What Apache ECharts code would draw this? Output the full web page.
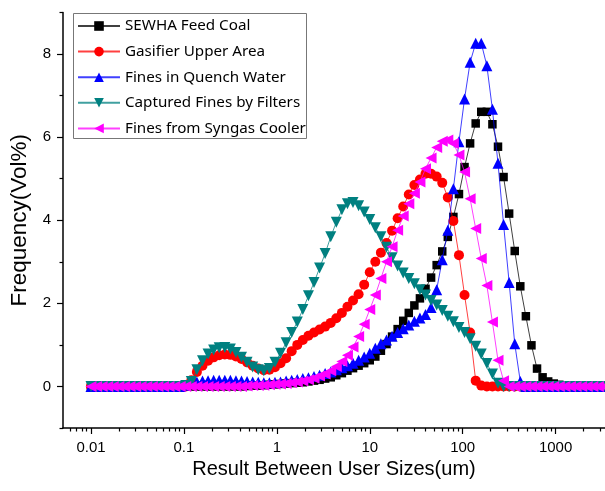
<!DOCTYPE html>
<html>
<head>
<meta charset="utf-8">
<script src="https://cdn.jsdelivr.net/npm/echarts@6/dist/echarts.min.js"></script>
<style>html,body{margin:0;padding:0;background:#fff}#c{width:605px;height:491px}</style>
</head>
<body>
<div id="c"></div>
<script>
// particle size classes (um)
const sizes = [0.01,0.01148,0.01318,0.01514,0.01738,0.01995,0.02291,0.0263,0.0302,0.03467,
0.03981,0.04571,0.05248,0.06026,0.06918,0.07943,0.0912,0.1047,0.1202,0.138,
0.1585,0.182,0.2089,0.2399,0.2754,0.3162,0.3631,0.4169,0.4786,0.5495,
0.631,0.7244,0.8318,0.955,1.096,1.259,1.445,1.66,1.905,2.188,
2.512,2.884,3.311,3.802,4.365,5.012,5.754,6.607,7.586,8.71,
10,11.48,13.18,15.14,17.38,19.95,22.91,26.3,30.2,34.67,
39.81,45.71,52.48,60.26,69.18,79.43,91.2,104.7,120.2,138,
158.5,182,208.9,239.9,275.4,316.2,363.1,416.9,478.6,549.5,
631,724.4,831.8,955,1096,1259,1445,1660,1905,2188,
2512,2884,3311];

const feedCoal = [0,0,0,0,0,0,0,0,0,0,0,0,0,0,0,0,0,0,0,0,0,0,0,0,0,0,0,0,
0.01,0.02,0.02,0.03,0.04,
0.05,0.06,0.07,0.08,0.09,0.1,0.12,0.14,0.16,0.19,
0.22,0.27,0.32,0.38,0.44,0.5,0.56,0.63,0.72,0.86,
1.02,1.2,1.38,1.58,1.77,1.95,2.12,2.35,2.62,2.92,
3.25,3.6,4.08,4.63,5.28,5.85,6.33,6.61,6.61,6.31,
5.77,5.04,4.16,3.26,2.41,1.69,0.99,0.43,0.22,0.12,
0.07,0.04,0.02,0,0,0,0,0,0,0];

const gasifierUpper = [0,0,0,0,0,0,0,0,0,0,0,0,0,0,0,0,0,0,
0.15,0.35,0.5,0.62,0.7,0.75,0.77,0.76,0.72,0.66,
0.58,0.5,0.43,0.39,0.4,0.46,0.56,0.68,0.85,1.0,
1.12,1.22,1.3,1.37,1.44,1.53,1.64,1.77,1.92,2.07,
2.22,2.45,2.75,3.0,3.22,3.45,3.75,4.05,4.33,4.62,
4.85,4.98,5.12,5.12,5.05,4.9,4.55,3.98,3.16,2.2,
1.3,0.14,0.02,
0,0,0,0,0,0,0,0,0,0,0,0,0,0,0,0,0,0,0,0,0,0];

const quenchWater = [0,0,0,0,0,0,0,0,0,0,0,0,0,0,0,0,0,
0.03,0.08,0.11,0.13,0.14,0.15,0.15,0.15,0.15,0.14,
0.13,0.12,0.11,0.1,0.09,0.09,0.1,0.11,0.13,0.15,
0.17,0.19,0.21,0.24,0.27,0.31,0.35,0.4,0.45,0.5,
0.56,0.63,0.71,0.8,0.92,1.03,1.12,1.21,1.3,1.39,
1.48,1.57,1.65,1.73,1.9,2.33,3.05,3.76,4.76,5.89,
6.92,7.8,8.26,8.26,7.72,6.67,5.37,3.9,2.5,1.03,
0.12,
0,0,0,0,0,0,0,0,0,0,0,0,0,0,0];

const filters = [0,0,0,0,0,0,0,0,0,0,0,0,0,0,0,0,0,
0.02,0.12,0.4,0.62,0.78,0.88,0.93,0.94,0.9,0.82,
0.7,0.58,0.47,0.4,0.38,0.43,0.58,0.8,1.05,1.3,
1.55,1.85,2.18,2.5,2.85,3.2,3.6,3.95,4.25,4.4,
4.43,4.35,4.2,4.02,3.82,3.6,3.35,3.1,2.9,2.73,
2.6,2.47,2.33,2.2,2.07,1.96,1.83,1.69,1.56,1.42,
1.3,1.15,0.97,0.78,0.55,0.3,0.08,
0,0,0,0,0,0,0,0,0,0,0,0,0,0,0,0,0,0,0];

const syngasCooler = [0,0,0,0,0,0,0,0,0,0,0,0,0,0,0,0,0,0,0,0,0,0,0,0,0,0,0,0,
0.01,0.02,0.02,0.03,0.04,
0.05,0.06,0.07,0.09,0.11,0.13,0.16,0.2,0.25,0.3,
0.38,0.48,0.6,0.75,0.95,1.2,1.5,1.85,2.2,2.6,
3.0,3.36,3.76,4.1,4.4,4.65,4.92,5.24,5.5,5.75,
5.9,5.93,5.85,5.57,5.16,4.52,3.8,3.08,2.43,1.55,
0.63,0.14,
0,0,0,0,0,0,0,0,0,0,0,0,0,0,0,0,0,0];

const seriesNames = ['SEWHA Feed Coal','Gasifier Upper Area','Fines in Quench Water','Captured Fines by Filters','Fines from Syngas Cooler'];
const xMajor = [0.01,0.1,1,10,100,1000];
const xMinor = [0.006,0.007,0.008,0.009,0.02,0.03,0.04,0.05,0.06,0.07,0.08,0.09,
0.2,0.3,0.4,0.5,0.6,0.7,0.8,0.9,2,3,4,5,6,7,8,9,20,30,40,50,60,70,80,90,
200,300,400,500,600,700,800,900,2000,3000];
const yMajor = [0,2,4,6,8];
const yMinor = [-1,1,3,5,7,9];

const chart = echarts.init(document.getElementById('c'), null, {renderer:'canvas'});
function pts(v){ return sizes.map((s,i)=>[s,v[i]]); }
const defs = [
  {d:feedCoal, c:'#000000', sym:'rect', size:8.5, rot:0},
  {d:gasifierUpper, c:'#ff0000', sym:'circle', size:10, rot:0},
  {d:quenchWater, c:'#0000ff', sym:'triangle', size:11, rot:0},
  {d:filters, c:'#008080', sym:'triangle', size:11, rot:180},
  {d:syngasCooler, c:'#ff00ff', sym:'triangle', size:11, rot:90}
];
const axisFont = {fontFamily:'Liberation Sans, Arial', fontSize:15, color:'#000'};
const xBase = {type:'log', logBase:10, min:0.005, max:3400, gridIndex:0};
const yBase = {type:'value', min:-1, max:9, gridIndex:0};
chart.setOption({
  animation:false,
  backgroundColor:'#fff',
  grid:{left:60, right:0, top:12.5, bottom:63},
  xAxis:[
    Object.assign({}, xBase, {
      position:'bottom',
      axisLine:{show:true, onZero:false, lineStyle:{color:'#000', width:1.5}},
      axisTick:{show:true, inside:false, length:6, customValues:xMajor, lineStyle:{color:'#000', width:1.2}},
      axisLabel:Object.assign({customValues:xMajor, margin:12, formatter:v=>String(v)}, axisFont),
      splitLine:{show:false},
      name:'Result Between User Sizes(um)', nameLocation:'middle', nameGap:25,
      nameTextStyle:{fontFamily:'Liberation Sans, Arial', fontSize:20, color:'#000'}
    }),
    Object.assign({}, xBase, {
      position:'bottom',
      axisLine:{show:false, onZero:false},
      axisTick:{show:true, inside:false, length:3.5, customValues:xMinor, lineStyle:{color:'#000', width:1.2}},
      axisLabel:{show:false},
      splitLine:{show:false}
    })
  ],
  yAxis:[
    Object.assign({}, yBase, {
      position:'left',
      axisLine:{show:true, onZero:false, lineStyle:{color:'#000', width:1.5}},
      axisTick:{show:true, inside:false, length:6, customValues:yMajor, lineStyle:{color:'#000', width:1.2}},
      axisLabel:Object.assign({customValues:yMajor, margin:12}, axisFont),
      splitLine:{show:false},
      name:'Frequency(Vol%)', nameLocation:'middle', nameGap:32,
      nameTextStyle:{fontFamily:'Liberation Sans, Arial', fontSize:22.5, color:'#000'}
    }),
    Object.assign({}, yBase, {
      position:'left',
      axisLine:{show:false, onZero:false},
      axisTick:{show:true, inside:false, length:3.5, customValues:yMinor, lineStyle:{color:'#000', width:1.2}},
      axisLabel:{show:false},
      splitLine:{show:false}
    })
  ],
  legend:{
    orient:'vertical', left:77, top:18.5, padding:0,
    itemWidth:42, itemHeight:12, itemGap:10.6,
    textStyle:{fontFamily:'Noto Sans', fontSize:15.2, color:'#000'},
    data:seriesNames
  },
  graphic:[{type:'rect', shape:{x:73.5, y:13.5, width:233, height:125}, style:{fill:'none', stroke:'#777', lineWidth:1}, z:100}],
  series: defs.map((s,i)=>({
    name:seriesNames[i], type:'line', xAxisIndex:0, yAxisIndex:0,
    data:pts(s.d), symbol:s.sym, symbolSize:s.size, symbolRotate:s.rot,
    showAllSymbol:true, clip:true,
    lineStyle:{color:s.c, width:1, opacity:0.75},
    itemStyle:{color:s.c, opacity:1},
    emphasis:{disabled:true},
    z:2+i
  }))
});
</script>
</body>
</html>
